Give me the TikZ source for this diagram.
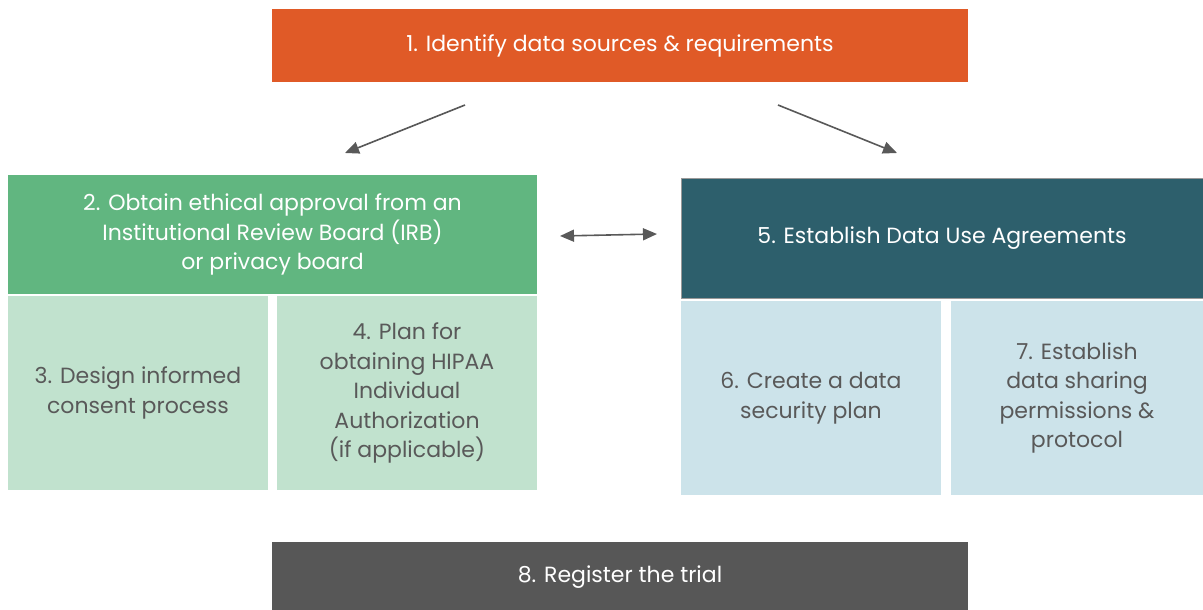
\documentclass[tikz,border=0pt]{standalone}
\usepackage{fontspec}
\setmainfont{Poppins}
\usetikzlibrary{arrows.meta}
\definecolor{corange}{HTML}{E05A27}
\definecolor{cgreen}{HTML}{61B680}
\definecolor{clgreen}{HTML}{C1E2CE}
\definecolor{cteal}{HTML}{2D5F6C}
\definecolor{clblue}{HTML}{CCE3EA}
\definecolor{cdark}{HTML}{575757}
\definecolor{ctext}{HTML}{595959}
\definecolor{carrow}{HTML}{595959}
\tikzset{
  box/.style={rectangle, inner sep=0pt, align=center, font=\fontsize{22}{29.5}\selectfont},
  darkbox/.style={box, text=white},
  lightbox/.style={box, text=ctext},
  conn/.style={draw=carrow, line width=1.6pt, -{Triangle[length=14pt,width=12pt]}},
  dconn/.style={draw=carrow, line width=1.6pt, {Triangle[length=14pt,width=12pt]}-{Triangle[length=14pt,width=12pt]}},
}
\begin{document}
\begin{tikzpicture}[x=1pt,y=-1pt]
\useasboundingbox (0,0) rectangle (1203,610);
\node[darkbox, fill=corange, minimum width=696pt, minimum height=73pt] (b1) at (620,45.5) {1. Identify data sources \& requirements};
\node[darkbox, fill=cgreen, minimum width=529pt, minimum height=119pt] (b2) at (272.5,234.5) {2. Obtain ethical approval from an\\Institutional Review Board (IRB)\\or privacy board};
\node[lightbox, fill=clgreen, minimum width=260pt, minimum height=194pt] (b3) at (138,393) {3. Design informed\\consent process};
\node[lightbox, fill=clgreen, minimum width=260pt, minimum height=194pt] (b4) at (407,393) {4. Plan for\\obtaining HIPAA\\Individual\\Authorization\\(if applicable)};
\node[darkbox, fill=cteal, draw=gray!80, line width=1pt, minimum width=522pt, minimum height=120pt] (b5) at (942,238) {5. Establish Data Use Agreements};
\node[lightbox, fill=clblue, minimum width=260pt, minimum height=194pt] (b6) at (811,398) {6. Create a data\\security plan};
\node[lightbox, fill=clblue, minimum width=252pt, minimum height=194pt] (b7) at (1077,398) {7. Establish\\data sharing\\permissions \&\\protocol};
\node[darkbox, fill=cdark, minimum width=696pt, minimum height=70pt] (b8) at (620,577) {8. Register the trial};
\coordinate (a1s) at (465,105);
\coordinate (a1e) at (345,153);
\coordinate (a2s) at (778,105);
\coordinate (a2e) at (897,153);
\coordinate (a3s) at (560,236);
\coordinate (a3e) at (657,234);
\draw[conn] (a1s) -- (a1e);
\draw[conn] (a2s) -- (a2e);
\draw[dconn] (a3s) -- (a3e);
\end{tikzpicture}
\end{document}
